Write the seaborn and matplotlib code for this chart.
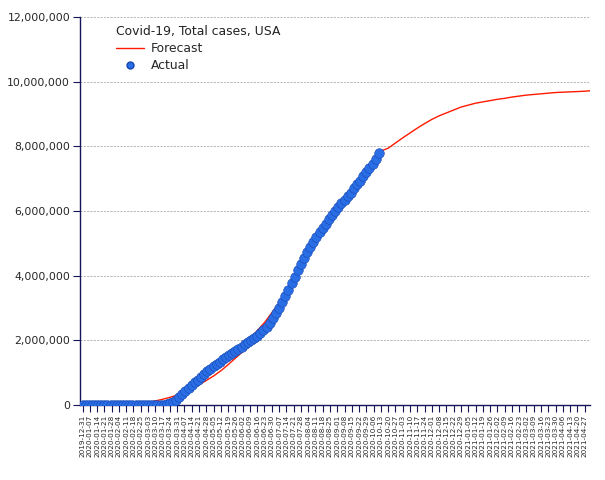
import pandas as pd
import matplotlib.pyplot as plt
import matplotlib.ticker as mticker
from matplotlib.lines import Line2D
import seaborn as sns

# --- datos ---
inicio_real = "2019-12-31"      # casos reales, cada 3 dias
casos_reales = [
    0, 0, 0, 0, 0, 0, 0, 0, 0, 0,
    0, 0, 0, 0, 0, 0, 0, 0, 0, 0,
    70, 120, 320, 700, 1700, 3500, 9400, 25000, 54000, 101000,
    162000, 244000, 337000, 432000, 530000, 607000, 700000, 784000, 869000, 965000,
    1040000, 1130000, 1205000, 1283000, 1347000, 1418000, 1486000, 1550000, 1620000, 1680000,
    1745000, 1810000, 1875000, 1940000, 2000000, 2075000, 2140000, 2225000, 2310000, 2425000,
    2550000, 2690000, 2840000, 2990000, 3180000, 3370000, 3560000, 3770000, 3970000, 4180000,
    4360000, 4560000, 4720000, 4880000, 5050000, 5190000, 5340000, 5480000, 5610000, 5740000,
    5870000, 5990000, 6110000, 6250000, 6340000, 6460000, 6570000, 6700000, 6830000, 6940000,
    7070000, 7190000, 7330000, 7450000, 7610000, 7800000,
]

inicio_prev = "2020-02-25"      # prevision, semanal
prevision = [
    40000, 80000, 130000, 180000, 240000, 310000, 390000, 500000, 630000, 760000,
    900000, 1060000, 1250000, 1450000, 1650000, 2050000, 2300000, 2550000, 2850000, 3150000,
    3500000, 3900000, 4330000, 4750000, 5130000, 5480000, 5790000, 6070000, 6330000, 6610000,
    6900000, 7180000, 7500000, 7850000, 7940000, 8100000, 8260000, 8410000, 8560000, 8700000,
    8830000, 8940000, 9030000, 9120000, 9210000, 9270000, 9330000, 9370000, 9410000, 9450000,
    9480000, 9520000, 9550000, 9580000, 9600000, 9620000, 9640000, 9660000, 9670000, 9680000,
    9690000, 9700000, 9720000,
]

etiquetas_x = pd.date_range("2019-12-31", "2021-04-27", freq="7D")
titulo = "Covid-19, Total cases, USA"

df_real = pd.DataFrame({
    "fecha": pd.date_range(inicio_real, periods=len(casos_reales), freq="3D"),
    "casos": casos_reales,
})
df_prev = pd.DataFrame({
    "fecha": pd.date_range(inicio_prev, periods=len(prevision), freq="7D"),
    "casos": prevision,
})

# --- grafico ---
sns.set_style("white")
plt.rcParams['font.family'] = ['DejaVu Sans']

fig, ax = plt.subplots(figsize=(6.05, 4.8), dpi=100)
fig.subplots_adjust(left=0.132, right=0.975, top=0.965, bottom=0.156)

azul_eje = "#14145a"

sns.lineplot(data=df_prev, x="fecha", y="casos", color="#ff1a00",
             linewidth=1.0, ax=ax, zorder=2)
sns.scatterplot(data=df_real, x="fecha", y="casos", color="#2a6ee6",
                edgecolor="#1645b0", linewidth=0.4, s=48, ax=ax, zorder=3)

ax.set_ylim(0, 12000000)
ax.set_xlim(pd.Timestamp("2019-12-28 10:00"), pd.Timestamp("2021-05-02"))
ax.yaxis.set_major_locator(mticker.MultipleLocator(2000000))
ax.yaxis.set_major_formatter(mticker.FuncFormatter(lambda v, p: f"{int(v):,}"))
ax.set_xticks(etiquetas_x)
ax.set_xticklabels([d.strftime("%Y-%m-%d") for d in etiquetas_x],
                   rotation=90, fontsize=5.2)
ax.tick_params(axis="y", labelsize=7.8, length=5, color=azul_eje, left=True, pad=2)
ax.tick_params(axis="x", length=5, color=azul_eje, bottom=True, pad=2)
ax.set_xlabel("")
ax.set_ylabel("")

ax.yaxis.grid(True, linestyle=(0, (2.5, 1.5)), color="#ababab", linewidth=0.6)
ax.set_axisbelow(True)
for lado in ["top", "right"]:
    ax.spines[lado].set_visible(False)
for lado in ["left", "bottom"]:
    ax.spines[lado].set_color(azul_eje)
    ax.spines[lado].set_linewidth(1.0)

handles = [
    Line2D([0], [0], color="#ff1a00", linewidth=1.0),
    Line2D([0], [0], marker="o", linestyle="", markersize=5,
           markerfacecolor="#2a6ee6", markeredgecolor="#1645b0"),
]
leg = ax.legend(handles, ["Forecast", "Actual"], title=titulo,
                loc="upper left", bbox_to_anchor=(0.049, 1.008),
                frameon=False, fontsize=8.9, title_fontsize=8.9,
                alignment="left", handlelength=2.3, handletextpad=0.5,
                labelspacing=0.35)
leg.get_title().set_color("#222222")

plt.savefig("out.png", dpi=100)
